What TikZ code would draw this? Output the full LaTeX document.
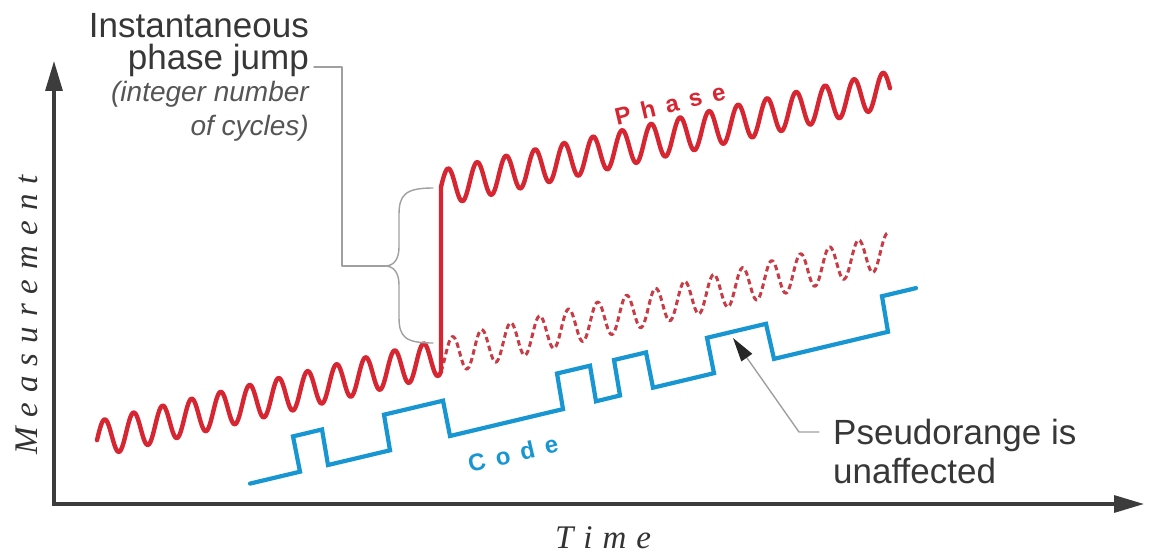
\documentclass[tikz,border=0pt]{standalone}
\usepackage{fontspec}
\setmainfont{Liberation Sans}
\newfontfamily\serifface{Liberation Serif}
\usetikzlibrary{arrows.meta}
\definecolor{phasered}{RGB}{214,38,50}
\definecolor{dashred}{RGB}{200,60,70}
\definecolor{codeblue}{RGB}{24,150,210}
\definecolor{axisgray}{RGB}{60,60,60}
\definecolor{leadgray}{RGB}{160,160,160}
\definecolor{textgray}{RGB}{55,55,55}
\definecolor{notegray}{RGB}{85,85,85}
\newcommand\lsp{\kern10.5pt}
\newcommand\msp{\kern10pt}
\begin{document}
\begin{tikzpicture}[x=1pt,y=-1pt,line join=round,line cap=round,
  phasewave/.style={draw=phasered,line width=4.4pt},
  dashwave/.style={draw=dashred,line width=3pt,dash pattern=on 5.5pt off 3.5pt,line cap=butt},
  codeline/.style={draw=codeblue,line width=4.2pt,line join=miter},
  axisline/.style={draw=axisgray,line width=3.2pt,line join=miter,line cap=butt},
  leadline/.style={draw=leadgray,line width=1.4pt},
  lbl/.style={inner sep=0pt,text=textgray,font=\fontsize{35}{40}\selectfont},
  note/.style={inner sep=0pt,text=notegray,font=\fontsize{28}{32}\selectfont\itshape},
  axlbl/.style={inner sep=0pt,text=black!80,font=\serifface\itshape\fontsize{33}{38}\selectfont},
  siglbl/.style={inner sep=0pt,font=\bfseries\fontsize{24}{28}\selectfont,rotate=13.4}]
\useasboundingbox (0,0) rectangle (1151,556);
\fill[white] (0,0) rectangle (1151,556);

% axes
\coordinate (ytip) at (54,61);
\coordinate (orig) at (54,504);
\coordinate (xtip) at (1144,504);
\draw[axisline,{Triangle[length=30pt,width=17pt]}-{Triangle[length=30pt,width=17pt]}] (ytip) -- (orig) -- (xtip);
\node[axlbl,rotate=90,anchor=base] (ylab) at (37,315) {M\msp e\msp a\msp s\msp u\msp r\msp e\msp m\msp e\msp n\msp t};
\node[axlbl,anchor=base] (xlab) at (603,548) {T\msp i\msp m\msp e};

% code line
\draw[codeline] (250,483.6) -- (300,471.7) -- (293,436.4) -- (322,429.5) -- (328,465)
  -- (390,450.3) -- (384,414.7) -- (443,400.7) -- (450,436)
  -- (563,409.1) -- (557,373.5) -- (590,365.7) -- (596,401.3)
  -- (620,395.5) -- (614,360) -- (646,352.4) -- (653,387.7)
  -- (714,373.2) -- (707,337.8) -- (766,323.8) -- (774,358.9)
  -- (888,331.8) -- (882,296.2) -- (916,288.1);

% dashed continuation of the phase
\draw[dashwave] plot[domain=441:888,samples=320] (\x,{358+0.238*(438-\x)+18*cos(12.41379*(\x-438))});

% phase with jump
\draw[phasewave] plot[domain=97:441,samples=260] (\x,{358+0.238*(438-\x)+18*cos(12.41379*(\x-438))})
  -- plot[domain=441:890,samples=320] (\x,{186-0.22*(\x-450)-18*cos(12.41379*(\x-448))});

% signal labels
\node[siglbl,text=phasered] (phaselab) at (670,104) {P\lsp h\lsp a\lsp s\lsp e};
\node[siglbl,text=codeblue] (codelab) at (513,454) {C\lsp o\lsp d\lsp e};

% jump annotation
\node[lbl,anchor=base east] (l1) at (309,38) {Instantaneous};
\node[lbl,anchor=base east] (l2) at (309,70) {phase jump};
\node[note,anchor=base east] (l3) at (309,102) {(integer number};
\node[note,anchor=base east] (l4) at (309,136) {of cycles)};
\coordinate (brtip) at (385,266);
\draw[leadline] (433,188) .. controls (405,188) and (399,195) .. (399,215) -- (399,247)
  .. controls (399,259) and (394,266) .. (brtip)
  .. controls (394,266) and (399,273) .. (399,285) -- (399,317)
  .. controls (399,337) and (405,343) .. (433,343);
\draw[leadline] ([xshift=5pt,yshift=3pt]l2.base east) -- ++(28,0) |- (brtip);

% pseudorange annotation
\node[lbl,anchor=base west] (p1) at (833,444) {Pseudorange is};
\node[lbl,anchor=base west] (p2) at (833,483) {unaffected};
\coordinate (ptip) at (733,338);
\draw[leadline,-{Triangle[length=24pt,width=13pt,color=black!85]}] ([xshift=-14pt,yshift=12pt]p1.base west) -- ++(-20,0) -- (ptip);
\end{tikzpicture}
\end{document}
